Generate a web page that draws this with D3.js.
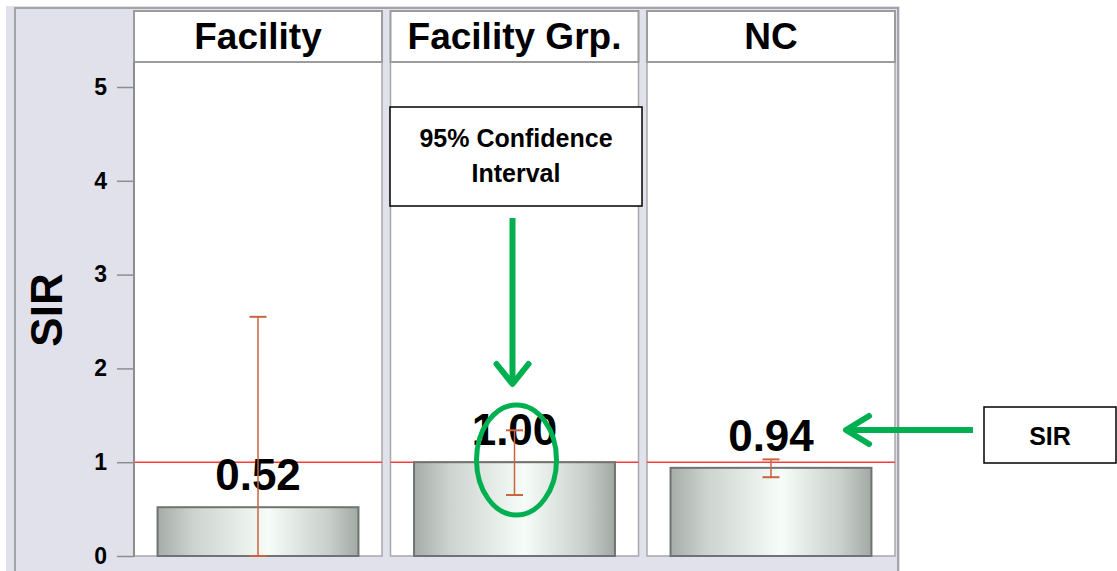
<!DOCTYPE html>
<html lang="en">
<head>
<meta charset="UTF-8"/>
<title>SIR by comparison group</title>
<script src="https://d3js.org/d3.v7.min.js"></script>
<style>
  body { margin: 0; background: #fff; }
  svg { display: block; font-family: "Liberation Sans", Arial, sans-serif; }
</style>
</head>
<body>
<script>
// data
var categories = ["Facility", "Facility Grp.", "NC"];
var sirValues  = [0.52, 1.00, 0.94];
var ciLower    = [0.00, 0.65, 0.84];
var ciUpper    = [2.55, 1.34, 1.03];
var yTicks     = [0, 1, 2, 3, 4, 5];
var refValue   = 1;

var w = 1117, h = 571;
var plotTop = 62, plotBottom = 556;
var headTop = 11;

var svg = d3.select("body").append("svg")
    .attr("width", w)
    .attr("height", h);

// gradient for the bars
var grad = svg.append("defs").append("linearGradient")
    .attr("id", "barGrad")
    .attr("x1", "0%").attr("x2", "100%").attr("y1", "0%").attr("y2", "0%");
grad.append("stop").attr("offset", "0%").attr("stop-color", "#a6ada9");
grad.append("stop").attr("offset", "18%").attr("stop-color", "#cdd4cf");
grad.append("stop").attr("offset", "55%").attr("stop-color", "#f6fcf8");
grad.append("stop").attr("offset", "85%").attr("stop-color", "#c9cfcb");
grad.append("stop").attr("offset", "100%").attr("stop-color", "#a2a8a4");

// scales
var x = d3.scaleBand()
    .domain(categories)
    .range([134, 895])
    .paddingInner(0.033);

var y = d3.scaleLinear()
    .domain([0, 5])
    .range([plotBottom, 87]);

// outer frame
svg.append("rect")
    .attr("x", 6).attr("y", 6)
    .attr("width", 894).attr("height", h - 6)
    .attr("fill", "#e1e1ec");
svg.append("path")
    .attr("d", "M15," + h + " V8 H898 V" + h)
    .attr("fill", "none")
    .attr("stroke", "#a3a3a8")
    .attr("stroke-width", 2);

// panels: header strip + white plot area
var panel = svg.selectAll(".panel")
    .data(categories)
    .enter().append("g")
    .attr("class", "panel");

panel.append("rect")
    .attr("x", function(d) { return x(d); })
    .attr("y", plotTop)
    .attr("width", x.bandwidth())
    .attr("height", plotBottom - plotTop)
    .attr("fill", "#fff")
    .attr("stroke", "#a8a8ac")
    .attr("stroke-width", 1.5);

panel.append("rect")
    .attr("x", function(d) { return x(d); })
    .attr("y", headTop)
    .attr("width", x.bandwidth())
    .attr("height", plotTop - headTop)
    .attr("fill", "#fff")
    .attr("stroke", "#9c9c9c")
    .attr("stroke-width", 2);

panel.append("text")
    .attr("x", function(d) { return x(d) + x.bandwidth() / 2; })
    .attr("y", 49)
    .attr("text-anchor", "middle")
    .attr("font-size", 37)
    .attr("font-weight", "bold")
    .attr("fill", "#000")
    .text(function(d) { return d; });

// reference line at SIR = 1 inside every panel
panel.append("line")
    .attr("x1", function(d) { return x(d); })
    .attr("x2", function(d) { return x(d) + x.bandwidth(); })
    .attr("y1", y(refValue))
    .attr("y2", y(refValue))
    .attr("stroke", "#ff3b3b")
    .attr("stroke-width", 1.5);

// bars
var barPad = x.bandwidth() * 0.095;
svg.selectAll(".bar")
    .data(sirValues)
    .enter().append("rect")
    .attr("class", "bar")
    .attr("x", function(d, i) { return x(categories[i]) + barPad; })
    .attr("y", function(d) { return y(d); })
    .attr("width", x.bandwidth() - 2 * barPad)
    .attr("height", function(d) { return y(0) - y(d); })
    .attr("fill", "url(#barGrad)")
    .attr("stroke", "#6f7371")
    .attr("stroke-width", 2);

// value labels
svg.selectAll(".val")
    .data(sirValues)
    .enter().append("text")
    .attr("class", "val")
    .attr("x", function(d, i) { return x(categories[i]) + x.bandwidth() / 2; })
    .attr("y", function(d) { return y(d) - 17; })
    .attr("text-anchor", "middle")
    .attr("font-size", 44)
    .attr("font-weight", "bold")
    .attr("fill", "#000")
    .text(function(d) { return d3.format(".2f")(d); });

// confidence intervals
var ci = svg.selectAll(".ci")
    .data(categories)
    .enter().append("g")
    .attr("class", "ci")
    .attr("stroke", "#c8643f")
    .attr("stroke-width", 1.5);

ci.append("line")
    .attr("x1", function(d) { return x(d) + x.bandwidth() / 2; })
    .attr("x2", function(d) { return x(d) + x.bandwidth() / 2; })
    .attr("y1", function(d, i) { return y(ciLower[i]); })
    .attr("y2", function(d, i) { return y(ciUpper[i]); });

ci.selectAll(".cap")
    .data(function(d, i) { return [[d, ciLower[i]], [d, ciUpper[i]]]; })
    .enter().append("line")
    .attr("class", "cap")
    .attr("x1", function(d) { return x(d[0]) + x.bandwidth() / 2 - 8.5; })
    .attr("x2", function(d) { return x(d[0]) + x.bandwidth() / 2 + 8.5; })
    .attr("y1", function(d) { return y(d[1]); })
    .attr("y2", function(d) { return y(d[1]); })
    .attr("stroke-width", 2);

// y axis
var yAxis = d3.axisLeft(y)
    .tickValues(yTicks)
    .tickFormat(d3.format("d"))
    .tickSize(17)
    .tickPadding(10);

var gy = svg.append("g")
    .attr("transform", "translate(134,0)")
    .call(yAxis);
gy.select(".domain").remove();
gy.selectAll(".tick line").attr("stroke", "#8e8e8e").attr("stroke-width", 1.5);
gy.selectAll(".tick text")
    .attr("font-size", 23)
    .attr("font-weight", "bold")
    .attr("font-family", "Liberation Sans, Arial, sans-serif")
    .attr("fill", "#000");

// axis line
svg.append("line")
    .attr("x1", 134).attr("x2", 134)
    .attr("y1", plotTop).attr("y2", plotBottom + 1)
    .attr("stroke", "#8e8e8e").attr("stroke-width", 2);

// y axis label
svg.append("text")
    .attr("transform", "translate(62,310) rotate(-90)")
    .attr("text-anchor", "middle")
    .attr("font-size", 44)
    .attr("font-weight", "bold")
    .attr("fill", "#000")
    .text("SIR");

// annotations
var green = "#00b050";
var grpX = x("Facility Grp.") + x.bandwidth() / 2;

svg.append("rect")
    .attr("x", 390).attr("y", 107)
    .attr("width", 252).attr("height", 99)
    .attr("fill", "#fff")
    .attr("stroke", "#000")
    .attr("stroke-width", 1.5);

svg.append("text")
    .attr("x", 516).attr("y", 147)
    .attr("text-anchor", "middle")
    .attr("font-size", 25)
    .attr("font-weight", "bold")
    .text("95% Confidence");
svg.append("text")
    .attr("x", 516).attr("y", 182)
    .attr("text-anchor", "middle")
    .attr("font-size", 25)
    .attr("font-weight", "bold")
    .text("Interval");

// down arrow
svg.append("line")
    .attr("x1", grpX - 2).attr("x2", grpX - 2)
    .attr("y1", 218).attr("y2", 383)
    .attr("stroke", green).attr("stroke-width", 6);
svg.append("path")
    .attr("d", "M" + (grpX - 18) + ",364 L" + (grpX - 2) + ",384 L" + (grpX + 14) + ",364")
    .attr("fill", "none")
    .attr("stroke", green).attr("stroke-width", 6)
    .attr("stroke-linecap", "round")
    .attr("stroke-linejoin", "round");

// ellipse around the interval
svg.append("ellipse")
    .attr("cx", grpX + 2).attr("cy", 460)
    .attr("rx", 40).attr("ry", 55)
    .attr("fill", "none")
    .attr("stroke", green).attr("stroke-width", 5);

// left arrow and SIR box
svg.append("line")
    .attr("x1", 973).attr("x2", 847)
    .attr("y1", 430).attr("y2", 430)
    .attr("stroke", green).attr("stroke-width", 6);
svg.append("path")
    .attr("d", "M869,416 L846,430 L869,444")
    .attr("fill", "none")
    .attr("stroke", green).attr("stroke-width", 6)
    .attr("stroke-linecap", "round")
    .attr("stroke-linejoin", "round");

svg.append("rect")
    .attr("x", 984).attr("y", 407)
    .attr("width", 132).attr("height", 56)
    .attr("fill", "#fff")
    .attr("stroke", "#000")
    .attr("stroke-width", 1.5);
svg.append("text")
    .attr("x", 1050).attr("y", 445)
    .attr("text-anchor", "middle")
    .attr("font-size", 25)
    .attr("font-weight", "bold")
    .text("SIR");
</script>
</body>
</html>
